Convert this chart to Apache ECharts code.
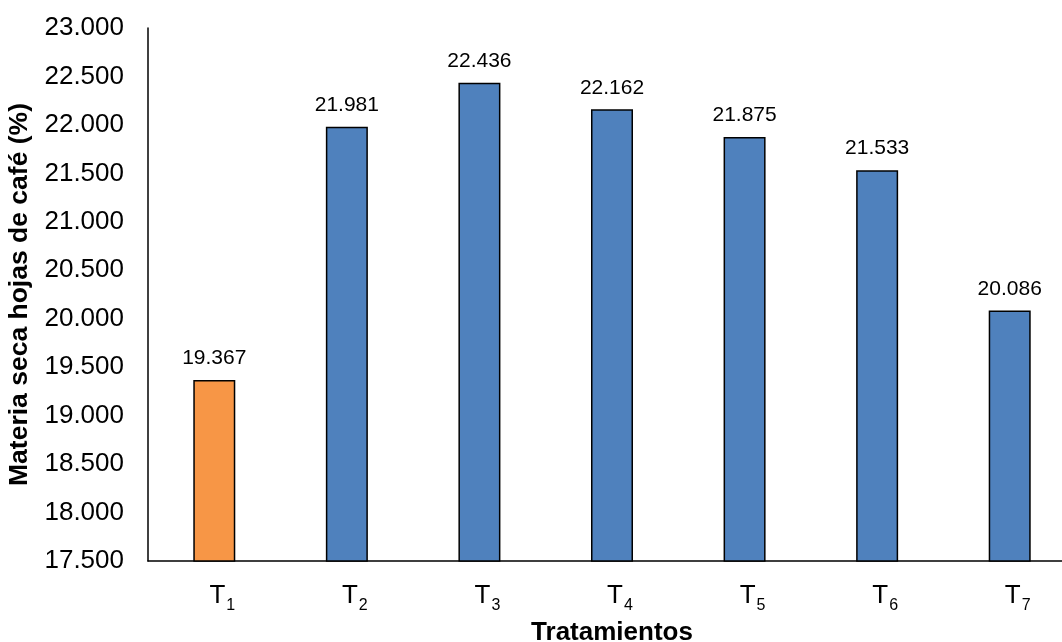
<!DOCTYPE html>
<html>
<head>
<meta charset="utf-8">
<script src="https://cdn.jsdelivr.net/npm/echarts@6/dist/echarts.min.js"></script>
<style>
  html, body { margin: 0; padding: 0; background: #ffffff; }
  #chart { width: 1062px; height: 642px; }
</style>
</head>
<body>
<div id="chart"></div>
<script>
// Treatments and their dry-matter percentage in coffee leaves
const treatments = ['1', '2', '3', '4', '5', '6', '7'];
const dryMatter = [19.367, 21.981, 22.436, 22.162, 21.875, 21.533, 20.086];
const barColors = ['#F79646', '#4F81BD', '#4F81BD', '#4F81BD', '#4F81BD', '#4F81BD', '#4F81BD'];
const yMin = 17.5;
const yMax = 23.0;
const yStep = 0.5;

const fontFamily = 'Liberation Sans, Arial, sans-serif';

const chart = echarts.init(document.getElementById('chart'), null, { renderer: 'canvas' });

chart.setOption({
  backgroundColor: '#ffffff',
  animation: false,
  textStyle: { fontFamily: fontFamily, color: '#000' },
  // the plot area runs a little past the right edge of the canvas
  grid: { left: 148, top: 28, right: -14, bottom: 81, containLabel: false, outerBoundsMode: 'none' },
  xAxis: {
    type: 'category',
    data: treatments,
    name: 'Tratamientos',
    nameLocation: 'middle',
    nameGap: 59,
    nameTextStyle: { fontSize: 26, fontWeight: 'bold', color: '#000', fontFamily: fontFamily },
    axisLine: { show: true, lineStyle: { color: '#000', width: 1.5 } },
    axisTick: { show: false },
    axisLabel: {
      margin: 17,
      padding: [0, 0, 0, 16],
      formatter: function (v) { return '{b|T}{s|' + v + '}'; },
      rich: {
        b: { fontSize: 26, color: '#000', fontFamily: fontFamily },
        s: { fontSize: 16, color: '#000', fontFamily: fontFamily, padding: [20, 0, 0, 1] }
      }
    }
  },
  yAxis: {
    type: 'value',
    min: yMin,
    max: yMax,
    interval: yStep,
    name: 'Materia seca hojas de café (%)',
    nameLocation: 'middle',
    nameGap: 114,
    nameTextStyle: { fontSize: 26.5, fontWeight: 'bold', color: '#000', fontFamily: fontFamily },
    axisLine: { show: true, lineStyle: { color: '#000', width: 1.5 } },
    axisTick: { show: false },
    splitLine: { show: false },
    axisLabel: {
      margin: 24,
      fontSize: 26,
      color: '#000',
      fontFamily: fontFamily,
      formatter: function (v) { return v.toFixed(3); }
    }
  },
  series: [{
    type: 'bar',
    barWidth: 42,
    data: dryMatter.map(function (v, i) {
      return { value: v, itemStyle: { color: barColors[i] } };
    }),
    itemStyle: { borderColor: '#000', borderWidth: 1.5 },
    label: {
      show: true,
      position: 'top',
      distance: 11,
      fontSize: 21,
      color: '#000',
      fontFamily: fontFamily,
      formatter: function (p) { return p.value.toFixed(3); }
    }
  }]
});
</script>
</body>
</html>
